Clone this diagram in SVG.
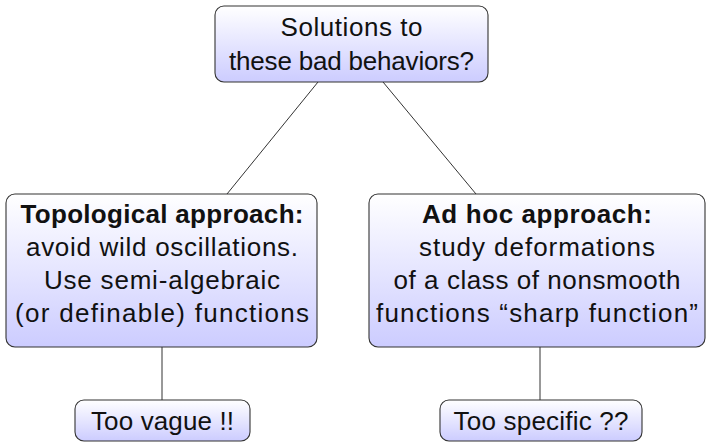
<svg xmlns="http://www.w3.org/2000/svg" width="709" height="443" viewBox="0 0 709 443">
  <defs>
    <linearGradient id="boxFill" x1="0" y1="0" x2="0" y2="1">
      <stop offset="0" stop-color="#ffffff"/>
      <stop offset="1" stop-color="#ccccff"/>
    </linearGradient>
  </defs>
  <style>
    .box { fill: url(#boxFill); stroke: #333333; stroke-width: 1.1; }
    .edge { stroke: #333333; stroke-width: 1; fill: none; }
    text { font-family: "Liberation Sans", Arial, sans-serif; font-size: 26px; fill: #111111; text-anchor: middle; }
    .bold { font-weight: bold; }
  </style>

  <!-- tree edges -->
  <g id="connectors">
    <line class="edge" x1="318" y1="82" x2="227" y2="194"/>
    <line class="edge" x1="383" y1="82" x2="476" y2="194"/>
    <line class="edge" x1="162" y1="347" x2="162" y2="400"/>
    <line class="edge" x1="540" y1="347" x2="540" y2="400"/>
  </g>

  <!-- root question -->
  <g id="root">
    <rect class="box" x="215" y="6" width="273" height="76" rx="9"/>
    <text x="351.5" y="36" textLength="142" lengthAdjust="spacing">Solutions to</text>
    <text x="351.5" y="70" textLength="245" lengthAdjust="spacing">these bad behaviors?</text>
  </g>

  <!-- left branch -->
  <g id="topological">
    <rect class="box" x="6" y="194" width="311" height="153" rx="9"/>
    <text class="bold" x="162" y="223" textLength="283" lengthAdjust="spacing">Topological approach:</text>
    <text x="162" y="256" textLength="272" lengthAdjust="spacing">avoid wild oscillations.</text>
    <text x="162" y="289" textLength="236" lengthAdjust="spacing">Use semi-algebraic</text>
    <text x="162" y="322" textLength="294" lengthAdjust="spacing">(or definable) functions</text>
  </g>

  <!-- right branch -->
  <g id="adhoc">
    <rect class="box" x="369" y="194" width="336" height="153" rx="9"/>
    <text class="bold" x="537" y="223" textLength="230" lengthAdjust="spacing">Ad hoc approach:</text>
    <text x="537" y="256" textLength="236" lengthAdjust="spacing">study deformations</text>
    <text x="537" y="289" textLength="287" lengthAdjust="spacing">of a class of nonsmooth</text>
    <text x="537" y="322" textLength="322" lengthAdjust="spacing">functions “sharp function”</text>
  </g>

  <!-- leaves -->
  <g id="vague">
    <rect class="box" x="75" y="400" width="175" height="41" rx="9"/>
    <text x="162.5" y="430" textLength="143" lengthAdjust="spacing">Too vague !!</text>
  </g>

  <g id="specific">
    <rect class="box" x="440" y="400" width="202" height="41" rx="9"/>
    <text x="541" y="430" textLength="175" lengthAdjust="spacing">Too specific ??</text>
  </g>
</svg>
